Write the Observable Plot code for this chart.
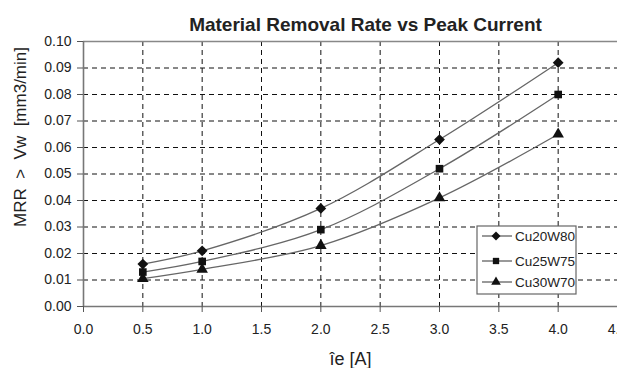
<!DOCTYPE html>
<html>
<head>
<meta charset="utf-8">
<script src="https://cdn.jsdelivr.net/npm/d3@7"></script>
<script src="https://cdn.jsdelivr.net/npm/@observablehq/plot@0.6"></script>
<style>
  html, body { margin: 0; padding: 0; background: #fff; }
  #chart { position: relative; width: 617px; height: 368px; overflow: hidden; }
  #chart svg { font-family: "Liberation Sans", Arial, sans-serif; }
</style>
</head>
<body>
<div id="chart"></div>
<script>
const title = "Material Removal Rate vs Peak Current";
const xTitle = "îe [A]";
const yTitle = "MRR  >  Vw  [mm3/min]";
const current = [0.5, 1.0, 2.0, 3.0, 4.0];
const cu20w80 = [0.016, 0.021, 0.037, 0.063, 0.092];
const cu25w75 = [0.013, 0.017, 0.029, 0.052, 0.080];
const cu30w70 = [0.0105, 0.014, 0.023, 0.041, 0.065];
const seriesNames = ["Cu20W80", "Cu25W75", "Cu30W70"];
const seriesSymbols = ["diamond", "square", "triangle"];
const xTicks = [0, 0.5, 1.0, 1.5, 2.0, 2.5, 3.0, 3.5, 4.0, 4.5];
const yTicks = [0, 0.01, 0.02, 0.03, 0.04, 0.05, 0.06, 0.07, 0.08, 0.09, 0.10];

const seriesValues = [cu20w80, cu25w75, cu30w70];
const data = [];
seriesValues.forEach((vals, i) => {
  vals.forEach((v, j) => data.push({series: seriesNames[i], x: current[j], y: v}));
});

// square-proportioned diamond (as in the reference)
const evenDiamond = {
  draw(context, size) {
    const r = Math.sqrt(size / 2);
    context.moveTo(0, -r);
    context.lineTo(r, 0);
    context.lineTo(0, r);
    context.lineTo(-r, 0);
    context.closePath();
  }
};
const symbolTypes = {diamond: evenDiamond, square: d3.symbolSquare, triangle: d3.symbolTriangle};

const gridX = xTicks.filter(t => t > 0 && t < 4.5);
const gridY = yTicks.filter(t => t > 0 && t < 0.1);

const chart = Plot.plot({
  width: 617,
  height: 368,
  marginLeft: 83,
  marginRight: 0,
  marginTop: 41,
  marginBottom: 62,
  style: {fontFamily: "'Liberation Sans', Arial, sans-serif", fontSize: "14px", color: "#222", background: "#fff"},
  x: {domain: [0, 4.5], ticks: xTicks, label: null},
  y: {domain: [0, 0.1], ticks: yTicks, label: null},
  symbol: {domain: seriesNames, range: seriesSymbols.map(s => symbolTypes[s])},
  marks: [
    Plot.ruleX(gridX, {stroke: "#111", strokeDasharray: "5,4", strokeWidth: 1}),
    Plot.ruleY(gridY, {stroke: "#111", strokeDasharray: "5,4", strokeWidth: 1}),
    Plot.ruleY([0.1], {stroke: "#888", strokeWidth: 1.6}),
    Plot.ruleY([0], {stroke: "#777", strokeWidth: 1.6}),
    Plot.ruleX([0], {stroke: "#777", strokeWidth: 1.6}),
    Plot.axisX({ticks: xTicks, tickFormat: d3.format(".1f"), tickSize: 6, tickPadding: 12, stroke: "#555", fill: "#222", fontSize: 14}),
    Plot.axisY({ticks: yTicks, tickFormat: d3.format(".2f"), tickSize: 6, tickPadding: 6, stroke: "#555", fill: "#222", fontSize: 14}),
    Plot.line(data, {x: "x", y: "y", z: "series", curve: "catmull-rom", stroke: "#666", strokeWidth: 1.3}),
    Plot.dot(data, {x: "x", y: "y", symbol: "series", fill: "#111", stroke: "none", r: 4.3}),
    Plot.text([title], {frameAnchor: "top", lineAnchor: "middle", textAnchor: "middle", dx: 15, dy: -17, fontSize: 19, fontWeight: "bold", fill: "#222"}),
    Plot.text([xTitle], {frameAnchor: "bottom", lineAnchor: "middle", textAnchor: "middle", dy: 53, fontSize: 18, fill: "#222"}),
    Plot.text([yTitle], {frameAnchor: "left", lineAnchor: "middle", textAnchor: "middle", dx: -63, dy: -37, rotate: -90, fontSize: 17, fill: "#222"})
  ]
});
chart.style.position = "absolute";
chart.style.left = "0px";
chart.style.top = "0px";
document.getElementById("chart").appendChild(chart);

// Legend box (overlay)
const legend = d3.select("#chart").append("svg")
  .attr("width", 101).attr("height", 70)
  .style("position", "absolute").style("left", "476px").style("top", "225px")
  .style("font-family", "'Liberation Sans', Arial, sans-serif");
legend.append("rect").attr("x", 1).attr("y", 1).attr("width", 99).attr("height", 68)
  .attr("fill", "#fff").attr("stroke", "#666").attr("stroke-width", 1.2);
const rowY = [11, 36, 57];
seriesNames.forEach((name, i) => {
  const g = legend.append("g").attr("transform", `translate(0,${rowY[i]})`);
  g.append("line").attr("x1", 6).attr("x2", 36).attr("y1", 0).attr("y2", 0).attr("stroke", "#555").attr("stroke-width", 1.2);
  g.append("path").attr("transform", "translate(20,0)").attr("d", d3.symbol(symbolTypes[seriesSymbols[i]], 40)()).attr("fill", "#111");
  g.append("text").attr("x", 39).attr("y", 0).attr("dy", "0.35em").attr("font-size", 13.5).attr("fill", "#222").text(name);
});
</script>
</body>
</html>
